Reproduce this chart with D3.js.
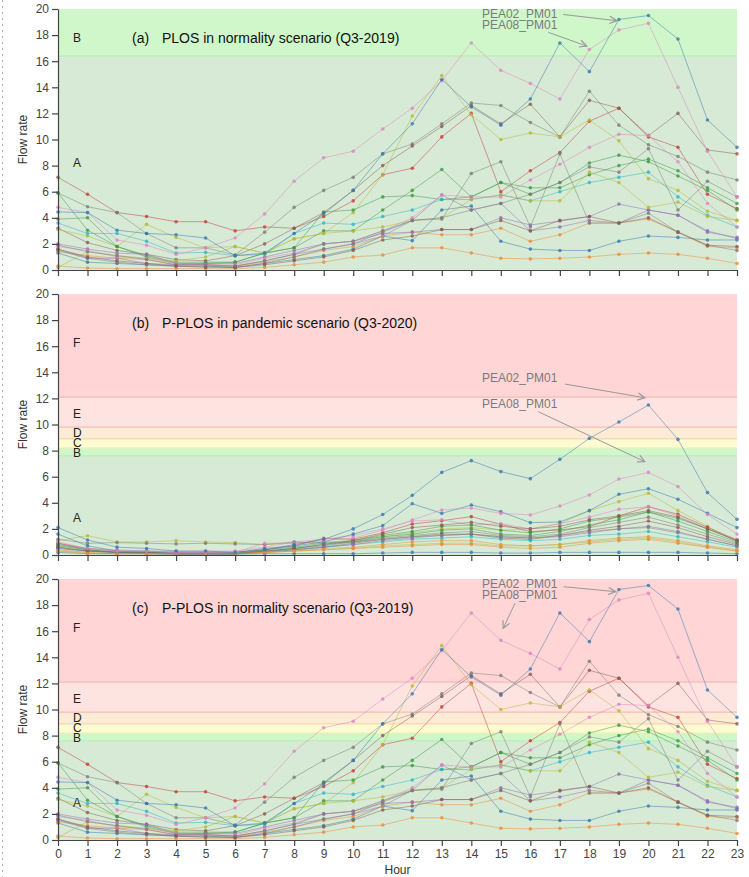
<!DOCTYPE html>
<html><head><meta charset="utf-8">
<script src="https://cdn.jsdelivr.net/npm/d3@7"></script>
<style>
body{margin:0;background:#fff;}
svg{display:block;font-family:"Liberation Sans",Arial,Helvetica,sans-serif;}
</style>
</head><body>
<svg id="chart" width="749" height="877"></svg>
<script>
// ---------- categories / ticks ----------
const hours = [0,1,2,3,4,5,6,7,8,9,10,11,12,13,14,15,16,17,18,19,20,21,22,23];
const yTicks = [0,2,4,6,8,10,12,14,16,18,20];

// ---------- Q3-2019 series (panels a, c) ----------
const y19_PEA02 = [4.45,4.4,3.05,2.8,2.7,2.45,1.1,1.3,2.8,4.3,6.1,8.9,11.2,14.6,12.5,11.1,13.1,17.4,15.2,19.2,19.5,17.7,11.5,9.4];
const y19_PEA08 = [4.8,4.4,2.3,1.9,1.2,1.7,2.45,4.3,6.8,8.6,9.1,10.8,12.4,14.5,17.4,15.3,14.3,13.1,16.9,18.4,18.9,14.0,9.1,5.6];
const y19_03 = [7.1,5.8,4.4,4.1,3.7,3.7,3.0,3.3,3.2,4.1,5.3,7.3,7.8,10.2,12.0,6.0,7.6,9.0,11.4,12.4,10.2,9.4,5.8,4.7];
const y19_04 = [5.9,4.85,4.4,2.8,1.7,1.7,1.15,2.9,4.8,6.1,7.1,8.9,9.65,11.2,12.8,12.6,11.3,10.2,13.7,11.1,9.6,8.7,7.5,6.9];
const y19_05 = [3.2,2.1,1.5,1.2,0.8,0.7,1.1,2.0,3.2,4.4,6.1,8.0,9.5,11.0,12.6,11.2,12.7,10.2,13.0,12.4,10.3,12.0,9.2,8.9];
const y19_06 = [3.1,2.6,1.8,3.5,2.5,1.7,1.8,1.3,2.4,2.8,4.4,7.3,11.8,14.9,11.9,10.0,10.5,10.2,11.5,9.9,7.0,6.1,4.5,3.8];
const y19_07 = [3.9,4.0,1.8,1.0,0.5,0.5,0.6,1.3,1.7,4.45,4.6,5.6,5.7,5.4,5.6,6.7,6.3,6.3,7.3,8.0,8.5,7.6,6.3,5.1];
const y19_08 = [3.6,2.8,2.8,2.2,1.3,1.35,1.1,1.2,2.8,3.6,3.5,4.1,4.6,5.4,5.4,5.75,5.3,6.0,6.7,7.1,7.5,5.6,4.2,3.3];
const y19_09 = [5.9,3.05,1.8,1.1,0.6,0.6,0.6,1.3,1.7,3.0,3.0,4.6,6.1,7.7,5.6,6.7,5.8,6.7,8.2,8.8,8.3,7.2,6.1,4.6];
const y19_10 = [2.0,1.6,1.3,1.2,0.5,0.4,0.3,0.7,1.2,1.6,2.0,2.6,3.8,5.75,4.6,5.1,3.0,3.3,3.8,3.6,4.6,4.2,2.9,2.5];
const y19_11 = [0.3,0.15,0.1,0.1,0.1,0.1,0.1,0.2,0.4,0.6,1.0,1.15,1.7,1.7,1.3,0.9,0.85,0.9,1.0,1.2,1.3,1.2,0.9,0.5];
const y19_12 = [1.3,0.6,0.5,0.4,0.3,0.3,0.2,0.5,0.8,1.1,1.6,2.6,2.25,4.6,4.9,2.2,1.6,1.5,1.5,2.2,2.6,2.5,2.3,2.3];
const y19_13 = [1.4,1.1,0.9,0.8,0.4,0.4,0.3,0.6,1.0,1.5,1.8,2.6,2.9,2.7,2.7,3.2,2.2,2.7,3.6,3.6,3.9,2.9,1.8,1.7];
const y19_14 = [1.5,0.9,0.9,0.5,0.4,0.5,0.5,1.0,1.5,2.0,2.2,2.8,2.9,3.1,3.1,4.0,3.45,3.75,4.1,5.05,4.6,4.2,3.0,2.4];
const y19_15 = [0.2,1.4,1.1,0.9,0.7,1.0,1.8,1.3,2.4,2.8,3.0,3.3,3.8,4.0,5.4,5.75,5.3,5.3,7.5,6.7,4.8,5.2,4.1,3.8];
const y19_16 = [1.6,0.9,0.6,0.4,0.3,0.3,0.2,0.5,1.0,1.6,2.0,2.9,3.8,3.9,7.4,8.3,3.3,8.9,3.6,3.6,4.35,2.9,1.9,1.5];
const y19_17 = [1.8,1.5,1.0,0.9,0.5,0.4,0.4,0.9,1.3,2.0,2.2,3.0,4.0,5.75,5.6,5.6,6.9,8.1,9.4,10.4,10.3,8.3,5.1,3.3];
const y19_18 = [1.9,1.4,1.1,0.8,0.4,0.4,0.3,0.7,1.2,2.0,2.2,3.0,3.8,4.0,4.6,5.1,5.8,6.7,7.9,7.5,9.3,4.6,6.8,5.6];
const y19_19 = [1.6,1.0,0.7,0.5,0.3,0.2,0.2,0.4,0.7,1.0,1.5,2.3,2.6,3.1,3.1,3.8,3.0,3.8,4.1,3.6,4.0,2.9,1.9,1.8];

// ---------- Q3-2020 series (panel b) ----------
const y20_PEA02 = [2.1,1.15,0.6,0.5,0.3,0.3,0.2,0.4,0.8,1.2,2.0,3.1,4.57,6.33,7.23,6.39,5.85,7.33,8.94,10.19,11.49,8.86,4.78,2.73];
const y20_PEA08 = [1.0,0.5,0.3,0.3,0.2,0.2,0.2,0.9,0.9,1.1,1.3,1.9,2.68,3.45,3.6,3.19,3.07,3.75,4.6,5.82,6.33,5.24,3.1,1.6];
const y20_03 = [1.6,0.7,0.3,0.3,0.2,0.2,0.2,0.5,0.7,1.0,1.6,2.25,3.93,3.19,3.83,3.32,2.48,2.53,3.4,4.65,5.08,4.27,3.19,2.1];
const y20_04 = [1.1,1.48,1.0,1.0,1.1,1.0,0.95,0.8,0.9,1.0,1.1,1.4,1.7,2.0,2.1,1.9,2.0,2.4,3.4,4.09,4.73,3.4,2.2,1.0];
const y20_05 = [0.9,0.5,0.3,0.2,0.2,0.2,0.2,0.4,0.7,1.28,1.2,1.7,2.38,2.63,2.94,2.35,1.79,1.92,2.17,2.99,3.7,3.12,2.12,1.15];
const y20_06 = [0.8,0.5,0.4,0.3,0.3,0.3,0.3,0.6,1.0,1.2,1.5,2.0,2.6,2.7,2.3,2.4,2.0,2.4,2.9,3.5,3.7,3.0,2.0,1.2];
const y20_07 = [0.7,0.4,0.2,0.2,0.1,0.1,0.1,0.3,0.5,0.8,1.0,1.4,1.6,1.9,2.0,1.6,1.5,1.8,2.3,2.7,3.3,2.6,1.8,1.0];
const y20_08 = [0.9,0.4,0.2,0.2,0.1,0.1,0.1,0.3,0.5,0.7,1.0,1.3,1.5,1.7,1.8,1.5,1.4,1.6,2.1,2.5,2.9,2.3,1.6,0.9];
const y20_09 = [0.6,0.3,0.2,0.1,0.1,0.1,0.1,0.2,0.4,0.6,0.9,1.2,1.4,1.6,1.6,1.3,1.2,1.5,1.9,2.2,2.6,2.1,1.4,0.8];
const y20_10 = [0.5,0.3,0.2,0.1,0.1,0.1,0.1,0.2,0.4,0.6,0.8,1.0,1.2,1.3,1.4,1.2,1.1,1.2,1.5,1.6,1.8,1.4,1.0,0.6];
const y20_11 = [0.4,0.2,0.1,0.1,0.1,0.1,0.1,0.2,0.3,0.5,0.6,0.8,1.0,1.1,1.1,0.8,0.7,0.8,1.1,1.3,1.4,1.1,0.7,0.4];
const y20_12 = [0.2,0.1,0.1,0.1,0.05,0.05,0.05,0.1,0.1,0.1,0.1,0.15,0.2,0.2,0.2,0.15,0.15,0.2,0.2,0.2,0.2,0.2,0.15,0.1];
const y20_13 = [0.5,0.3,0.2,0.2,0.1,0.1,0.1,0.3,0.4,0.6,0.8,1.1,1.3,1.5,1.6,1.4,1.3,1.4,1.7,2.0,2.2,1.8,1.2,0.7];
const y20_14 = [0.3,0.2,0.1,0.1,0.1,0.1,0.1,0.2,0.3,0.4,0.5,0.7,0.8,0.9,0.9,0.7,0.7,0.8,1.0,1.2,1.3,1.0,0.6,0.3];
const y20_15 = [0.8,0.4,0.2,0.2,0.1,0.1,0.1,0.4,0.6,0.9,1.1,1.5,1.8,2.2,2.3,1.9,1.7,2.0,2.6,2.9,3.3,2.8,2.0,1.1];
const y20_16 = [0.6,0.3,0.2,0.2,0.1,0.1,0.1,0.3,0.5,0.8,1.1,1.6,2.1,2.3,2.5,2.2,2.0,2.2,2.7,3.0,3.4,2.9,2.0,1.1];
const y20_17 = [0.3,0.1,0.1,0.1,0.1,0.1,0.1,0.2,0.3,0.4,0.5,0.6,0.7,0.8,0.8,0.6,0.5,0.6,0.9,1.1,1.2,0.9,0.6,0.3];
const y20_18 = [1.2,0.9,0.95,0.9,0.85,0.9,0.85,0.8,1.0,0.9,1.0,1.2,1.4,1.5,1.6,1.4,1.3,1.5,1.8,2.0,2.1,1.7,1.2,0.7];

const series2019 = [y19_03,y19_04,y19_05,y19_06,y19_07,y19_08,y19_09,y19_10,y19_11,y19_12,y19_13,y19_14,y19_15,y19_16,y19_17,y19_18,y19_19,y19_PEA08,y19_PEA02];
const series2020 = [y20_04,y20_05,y20_06,y20_07,y20_08,y20_09,y20_10,y20_11,y20_12,y20_13,y20_14,y20_15,y20_16,y20_17,y20_18,y20_03,y20_PEA08,y20_PEA02];

// ---------- level-of-service zones ----------
const zoneNamesA = ['A','B'];
const zoneEdgesA = [0,16.4,20];
const zoneNamesP = ['A','B','C','D','E','F'];
const zoneEdgesP = [0,7.6,8.2,8.9,9.8,12.1,20];

// ---------- styles ----------
const T = {blue:'#3a78b0',orange:'#f08a3a',green:'#3d9a45',red:'#c9393a',purple:'#8f6fb8',brown:'#8a5e52',pink:'#dd86c4',gray:'#7d7d7d',olive:'#b8b935',cyan:'#2db7c8'};
const colors2019 = [T.red,T.gray,T.brown,T.olive,T.green,T.cyan,T.green,T.purple,T.orange,T.blue,T.orange,T.purple,T.olive,T.gray,T.pink,T.gray,T.brown,T.pink,T.blue];
const colors2020 = [T.olive,T.red,T.pink,T.green,T.gray,T.brown,T.cyan,T.orange,T.blue,T.purple,T.olive,T.green,T.brown,T.orange,T.gray,T.blue,T.pink,T.blue];
const zoneFill = {A:'#d6ead5',B:'#cff7ca',C:'#fdfbd2',D:'#feecd6',E:'#fee4e0',F:'#ffd5d5'};
const zoneLine = {A:'#a9d6a6',B:'#b8eeb0',C:'#f4eeaa',D:'#f7cfa8',E:'#f2b2ac',F:'#f0b0b0'};
const zoneLabelPosA = {A:7.9,B:17.5};
const zoneLabelPosP = {A:2.5,B:7.5,C:8.3,D:9.07,E:10.47,F:15.96};

const X0 = 58, X1 = 737;
const panels = [
  {top:9,bottom:270,tag:'(a)',title:'PLOS in normality scenario (Q3-2019)',names:zoneNamesA,edges:zoneEdgesA,labelPos:zoneLabelPosA,series:series2019,colors:colors2019,xlabels:false,
   annot:{t1:[14.36,19.31],t2:[14.36,18.43],a1:[[17.11,19.58],[18.93,19.10]],a2:[[16.61,18.21],[17.91,17.16]]}},
  {top:294,bottom:555,tag:'(b)',title:'P-PLOS in pandemic scenario (Q3-2020)',names:zoneNamesP,edges:zoneEdgesP,labelPos:zoneLabelPosP,series:series2020,colors:colors2020,xlabels:false,
   annot:{t1:[14.36,13.22],t2:[14.36,11.23],a1:[[17.17,13.10],[19.88,12.05]],a2:[[16.27,10.98],[19.88,7.15]]}},
  {top:579,bottom:840,tag:'(c)',title:'P-PLOS in normality scenario (Q3-2019)',names:zoneNamesP,edges:zoneEdgesP,labelPos:zoneLabelPosP,series:series2019,colors:colors2019,xlabels:true,
   annot:{t1:[14.36,19.31],t2:[14.36,18.43],a1:[[17.12,19.41],[18.89,19.03]],a2:[[15.48,18.14],[15.08,16.22]]}}
];

const svg = d3.select('#chart');
// dotted page edge
svg.append('line').attr('x1',2.5).attr('x2',2.5).attr('y1',0).attr('y2',877)
  .attr('stroke','#b0b0b0').attr('stroke-width',1).attr('stroke-dasharray','2,4');

svg.append('defs').append('marker').attr('id','arr').attr('viewBox','0 0 10 10')
  .attr('refX',9).attr('refY',5).attr('markerWidth',9).attr('markerHeight',9)
  .attr('markerUnits','userSpaceOnUse').attr('orient','auto')
  .append('path').attr('d','M1,1 L9,5 L1,9').attr('fill','none').attr('stroke','#999').attr('stroke-width',1.3);

const x = d3.scaleLinear().domain([0,23]).range([X0,X1]);

panels.forEach(p => {
  const y = d3.scaleLinear().domain([0,20]).range([p.bottom,p.top]);
  const g = svg.append('g');
  // zones
  p.names.forEach((n,i) => {
    const lo = p.edges[i], hi = p.edges[i+1];
    g.append('rect').attr('x',X0).attr('width',X1-X0)
      .attr('y',y(hi)).attr('height',y(lo)-y(hi)).attr('fill',zoneFill[n]);
  });
  p.names.forEach((n,i) => {
    if (i === 0) return;
    const v = p.edges[i];
    g.append('line').attr('x1',X0).attr('x2',X1).attr('y1',y(v)).attr('y2',y(v))
      .attr('stroke',zoneLine[n]).attr('stroke-width',1);
  });
  // zone labels
  p.names.forEach(n => {
    g.append('text').attr('x',73).attr('y',y(p.labelPos[n])).text(n)
      .attr('font-size',12).attr('fill','#222');
  });
  // title
  g.append('text').attr('x',132).attr('y',p.top+33.5).text(p.tag).attr('font-size',14).attr('fill','#111');
  g.append('text').attr('x',162).attr('y',p.top+33.5).text(p.title).attr('font-size',14).attr('fill','#111');

  // series
  const line = d3.line().x((d,i)=>x(hours[i])).y(d=>y(d));
  p.series.forEach((s,k) => {
    const c = p.colors[k];
    g.append('path').datum(s).attr('d',line).attr('fill','none')
      .attr('stroke',c).attr('stroke-width',1).attr('stroke-opacity',0.5);
    g.selectAll(null).data(s).enter().append('circle')
      .attr('cx',(d,i)=>x(hours[i])).attr('cy',d=>y(d)).attr('r',1.8)
      .attr('fill',c).attr('fill-opacity',0.8);
  });

  // annotations
  const a = p.annot;
  g.append('text').attr('x',x(a.t1[0])).attr('y',y(a.t1[1])).text('PEA02_PM01').attr('font-size',12).attr('fill','#7a7a7a');
  g.append('text').attr('x',x(a.t2[0])).attr('y',y(a.t2[1])).text('PEA08_PM01').attr('font-size',12).attr('fill','#7a7a7a');
  [a.a1,a.a2].forEach(seg => {
    g.append('line').attr('x1',x(seg[0][0])).attr('y1',y(seg[0][1]))
      .attr('x2',x(seg[1][0])).attr('y2',y(seg[1][1]))
      .attr('stroke','#999').attr('stroke-width',1).attr('marker-end','url(#arr)');
  });

  // axes
  const ya = g.append('g').attr('transform',`translate(${X0},0)`)
    .call(d3.axisLeft(y).tickValues(yTicks).tickSize(6).tickSizeOuter(0).tickPadding(3));
  const xa = g.append('g').attr('transform',`translate(0,${p.bottom})`)
    .call(d3.axisBottom(x).tickValues(hours).tickSize(6).tickSizeOuter(0).tickPadding(3)
      .tickFormat(p.xlabels ? d3.format('d') : ''));
  [ya,xa].forEach(ax => {
    ax.select('.domain').attr('stroke','#444').attr('stroke-width',1.2);
    ax.selectAll('.tick line').attr('stroke','#444').attr('stroke-width',1.2);
    ax.selectAll('.tick text').attr('font-size',12).attr('fill','#444')
      .attr('font-family','"Liberation Sans",Arial,sans-serif');
  });
  // y label
  g.append('text').attr('transform',`translate(27,${(p.top+p.bottom)/2}) rotate(-90)`)
    .attr('text-anchor','middle').text('Flow rate').attr('font-size',12).attr('fill','#333');
});

svg.append('text').attr('x',(X0+X1)/2).attr('y',874).attr('text-anchor','middle')
  .text('Hour').attr('font-size',12).attr('fill','#333');
</script>
</body></html>
